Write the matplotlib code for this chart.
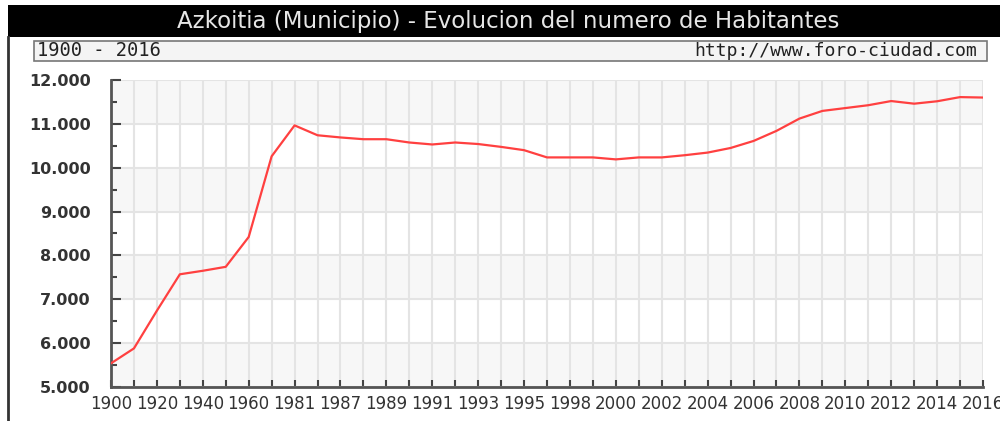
import matplotlib
matplotlib.use("Agg")
import matplotlib.pyplot as plt
from matplotlib.patches import Rectangle
from matplotlib.ticker import FuncFormatter, MultipleLocator

# data
years = ['1900', '1910', '1920', '1930', '1940', '1950', '1960', '1970', '1981',
         '1986', '1987', '1988', '1989', '1990', '1991', '1992', '1993', '1994',
         '1995', '1996', '1998', '1999', '2000', '2001', '2002', '2003', '2004',
         '2005', '2006', '2007', '2008', '2009', '2010', '2011', '2012', '2013',
         '2014', '2015', '2016']
population = [5540, 5880, 6740, 7570, 7650, 7740, 8420, 10260, 10965,
              10740, 10690, 10650, 10650, 10575, 10530, 10575, 10540, 10475,
              10400, 10235, 10235, 10235, 10190, 10235, 10235, 10285, 10345,
              10450, 10610, 10840, 11120, 11295, 11360, 11425, 11520, 11460,
              11515, 11610, 11600]
title = "Azkoitia (Municipio) - Evolucion del numero de Habitantes"
period = "1900 - 2016"
source = "http://www.foro-ciudad.com"

W, H = 1000, 421
fig = plt.figure(figsize=(W / 100, H / 100), dpi=100)
fig.patch.set_facecolor("white")


def fx(px):
    return px / W


def fy(py):
    return 1 - py / H


# title bar
fig.patches.append(Rectangle((fx(8), fy(37)), fx(992), (37 - 5) / H,
                             transform=fig.transFigure, facecolor="black",
                             edgecolor="none", zorder=0))
fig.text(fx(508), fy(21.5), title, color="#e6e6e6", fontsize=16.5,
         ha="center", va="center")
# left frame line
fig.add_artist(plt.Line2D([fx(8), fx(8)], [fy(37), 0], transform=fig.transFigure,
                          color="#333333", lw=2))
# subtitle box
fig.patches.append(Rectangle((fx(34), fy(61)), fx(953), (61 - 41) / H,
                             transform=fig.transFigure, facecolor="#f4f4f4",
                             edgecolor="#777777", lw=1.2, zorder=0))
fig.text(fx(37), fy(51), period, family="DejaVu Sans Mono", fontsize=13.5,
         color="#222222", ha="left", va="center")
fig.text(fx(977), fy(51), source, family="DejaVu Sans Mono", fontsize=13,
         color="#222222", ha="right", va="center")

# plot area
ax = fig.add_axes([fx(111), fy(387), fx(983 - 111), (387 - 80) / H])
x = list(range(len(years)))
ax.set_xlim(0, len(years) - 1)
ax.set_ylim(5000, 12000)

# alternating background bands
for lo in range(5000, 12000, 1000):
    if (lo // 1000) % 2 == 1:
        ax.axhspan(lo, lo + 1000, color="#f7f7f7", zorder=0, lw=0)

ax.set_xticks(x)
ax.set_xticklabels([y if i % 2 == 0 else "" for i, y in enumerate(years)])
ax.yaxis.set_major_locator(MultipleLocator(1000))
ax.yaxis.set_minor_locator(MultipleLocator(500))
ax.yaxis.set_major_formatter(FuncFormatter(lambda v, p: f"{int(v):,}".replace(",", ".")))

ax.grid(True, which="major", axis="both", color="#e4e4e4", lw=1.5, zorder=1)
ax.set_axisbelow(True)

ax.plot(x, population, color="#ff4040", lw=1.6, zorder=3)

for s in ("top", "right"):
    ax.spines[s].set_visible(False)
for s in ("left", "bottom"):
    ax.spines[s].set_color("#555555")
    ax.spines[s].set_linewidth(2)

ax.tick_params(axis="x", direction="in", length=5, width=1.5, color="#444444",
               labelsize=12, labelcolor="#333333", pad=6)
ax.tick_params(axis="y", which="major", direction="in", length=7, width=1.5,
               color="#444444", labelsize=11.5, labelcolor="#333333", pad=14.5)
ax.tick_params(axis="y", which="minor", direction="in", length=4, width=1.5,
               color="#444444")
for lbl in ax.get_yticklabels():
    lbl.set_fontweight("bold")

fig.savefig("out.png", dpi=100)
